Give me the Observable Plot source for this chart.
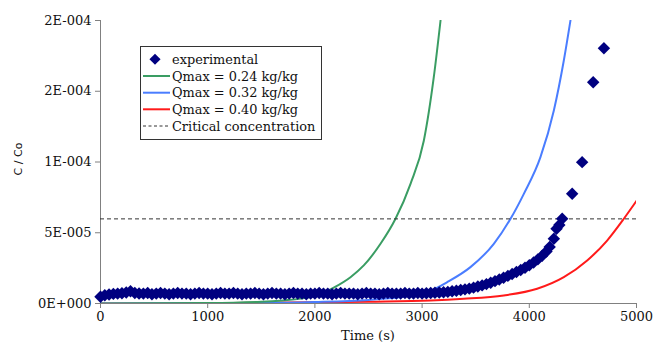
<!DOCTYPE html>
<html><head><meta charset="utf-8">
<script src="https://cdn.jsdelivr.net/npm/d3@7"></script>
<script src="https://cdn.jsdelivr.net/npm/@observablehq/plot@0.6"></script>
<style>html,body{margin:0;padding:0;background:#fff}</style>
</head><body><div id="chart"></div>
<script>
// ---- data (concentrations in units of 1e-6 C/Co) ----
const expTime = [0,40,80,120,160,200,240,280,320,360,
  400,440,480,520,560,600,640,680,720,760,800,840,880,920,960,1000,1040,1080,1120,1160,1200,1240,1280,1320,1360,1400,1440,1480,1520,1560,1600,1640,1680,1720,1760,1800,1840,1880,1920,1960,2000,2040,2080,2120,2160,2200,2240,2280,2320,2360,2400,2440,2480,2520,2560,2600,2640,2680,2720,2760,2800,2840,2880,2920,2960,3000,
  3040,3080,3120,3160,3200,
  3240,3280,3320,3360,3400,3440,3480,3520,3560,3600,3640,3680,3720,3760,3800,3840,3880,3920,3960,4000,4040,4080,4120,4160,
  4190,4229,4254,4280,4307,4400,4493,4596,4696];
const expC = [4.8,5.8,6.4,6.8,7.0,7.2,7.8,8.6,7.4,7.1,
  7.0,7.4,6.6,7.0,7.4,7.0,6.6,7.0,7.4,7.0,
  7.0,6.6,7.0,7.4,7.0,7.0,6.6,7.0,7.4,7.0,
  7.0,7.4,7.0,6.6,7.0,7.0,7.4,7.0,6.6,7.0,
  7.4,7.0,7.0,6.6,7.0,7.4,7.0,7.0,6.6,7.0,
  7.0,7.4,7.0,7.0,6.6,7.0,7.4,7.0,7.0,7.0,
  6.6,7.0,7.4,7.0,7.0,6.6,7.0,7.4,7.0,7.0,
  7.0,7.4,7.0,7.0,7.4,7.0,
  7.2,7.4,7.6,7.8,8.0,
  8.2,8.6,9.0,9.5,10.0,10.5,11.2,12.0,12.8,13.7,14.7,15.8,17.0,18.2,19.5,20.8,22.2,23.7,25.3,27.0,29.0,31.2,33.8,36.8,
  40.0,45.7,52.8,55.5,59.9,77.5,99.9,156.4,180.4];

const q024Time = [0,1000,1500,1700,1900,2050,2176,2332,2456,2612,2752,2892,3016,3109,3172];
const q024C    = [0,0.3,1.2,2.2,3.8,6.5,11.2,18.6,26.9,42.2,59.9,84.6,115,159.9,200];

const q032Time = [0,1500,2000,2500,2800,3047,3234,3451,3669,3825,3949,4104,4229,4322,4384];
const q032C    = [0,0.3,1.0,2.5,4.5,8.0,15.1,25.7,42.2,59.9,77.5,103.4,136.4,171.7,200];

const q040Time = [0,1000,2000,2500,3078,3389,3762,4073,4322,4540,4726,4882,5000];
const q040C    = [0,0.2,0.8,1.3,2.1,3.3,5.7,10.4,18.6,30.4,44.5,59.9,72.5];

const criticalC = 59.8;

const seriesNames = ["experimental","Qmax = 0.24 kg/kg","Qmax = 0.32 kg/kg","Qmax = 0.40 kg/kg","Critical concentration"];
const seriesColors = ["#000080","#3a9d63","#4a7dff","#ff1a1a","#333333"];

const xTicks = [0,1000,2000,3000,4000,5000];
const yTicks = [0,5e-5,1e-4,1.5e-4,2e-4];
const yTickLabels = ["0E+000","5E-005","1E-004","2E-004","2E-004"];

// ---- build tables ----
const toRows = (t, c) => t.map((d, i) => ({t: d, c: c[i] * 1e-6}));
const expData = toRows(expTime, expC);
const g = toRows(q024Time, q024C);
const b = toRows(q032Time, q032C);
const r = toRows(q040Time, q040C);

const serif = "'DejaVu Serif', serif";
const chart = Plot.plot({
  width: 655, height: 344,
  marginLeft: 100, marginRight: 19, marginTop: 20, marginBottom: 41,
  style: {fontFamily: serif, fontSize: "13px", color: "#111", background: "#fff", overflow: "visible"},
  x: {domain: [0, 5000]},
  y: {domain: [0, 2e-4]},
  marks: [
    Plot.axisX({ticks: xTicks, tickSize: 5, tickPadding: 3, stroke: "#808080", fill: "#111", label: null, tickFormat: d => String(d)}),
    Plot.axisY({ticks: yTicks, tickSize: 5, tickPadding: 4, stroke: "#808080", fill: "#111", label: null,
      tickFormat: d => yTickLabels[yTicks.indexOf(d)]}),
    Plot.ruleX([0], {stroke: "#808080"}),
    Plot.ruleY([0], {stroke: "#808080"}),
    Plot.lineY(r, {x: "t", y: "c", stroke: seriesColors[3], strokeWidth: 2, curve: "monotone-x", clip: true}),
    Plot.lineY(b, {x: "t", y: "c", stroke: seriesColors[2], strokeWidth: 2, curve: "monotone-x", clip: true}),
    Plot.lineY(g, {x: "t", y: "c", stroke: seriesColors[1], strokeWidth: 2, curve: "monotone-x", clip: true}),
    Plot.ruleY([criticalC * 1e-6], {stroke: seriesColors[4], strokeWidth: 1, strokeDasharray: "4,3"}),
    Plot.dot(expData, {x: "t", y: "c", symbol: "diamond2", r: 5.6, fill: seriesColors[0], stroke: "none"})
  ]
});
document.getElementById("chart").appendChild(chart);

// ---- axis titles & legend ----
const svg = d3.select(chart);
svg.append("text").attr("x", 368).attr("y", 335).attr("text-anchor", "middle")
  .attr("dominant-baseline", "central").attr("font-family", serif).attr("font-size", 13).attr("fill", "#111")
  .text("Time (s)");
svg.append("text").attr("transform", "translate(18,159) rotate(-90)").attr("text-anchor", "middle")
  .attr("dominant-baseline", "central").attr("font-family", "'DejaVu Sans', sans-serif").attr("font-size", 11).attr("fill", "#111")
  .text("C / Co");

const lg = svg.append("g").attr("text-anchor", "start");
lg.append("rect").attr("x", 140.5).attr("y", 46.5).attr("width", 181).attr("height", 93)
  .attr("fill", "#fff").attr("stroke", "#333").attr("stroke-width", 1);
const rowY = [59.3, 76, 92.7, 109.3, 126];
seriesNames.forEach((name, i) => {
  const y = rowY[i];
  if (i === 0) {
    lg.append("path").attr("d", d3.symbol(d3.symbolDiamond2, Math.PI * 25)())
      .attr("transform", `translate(155,${y})`).attr("fill", seriesColors[0]);
  } else {
    lg.append("line").attr("x1", 143).attr("x2", 170).attr("y1", y).attr("y2", y)
      .attr("stroke", seriesColors[i]).attr("stroke-width", i === 4 ? 1 : 2)
      .attr("stroke-dasharray", i === 4 ? "3,2.5" : null);
  }
  lg.append("text").attr("x", 172).attr("y", y).attr("dominant-baseline", "central").attr("text-anchor", "start")
    .attr("font-family", serif).attr("font-size", 12.9).attr("fill", "#111").text(name);
});
</script>
</body></html>
